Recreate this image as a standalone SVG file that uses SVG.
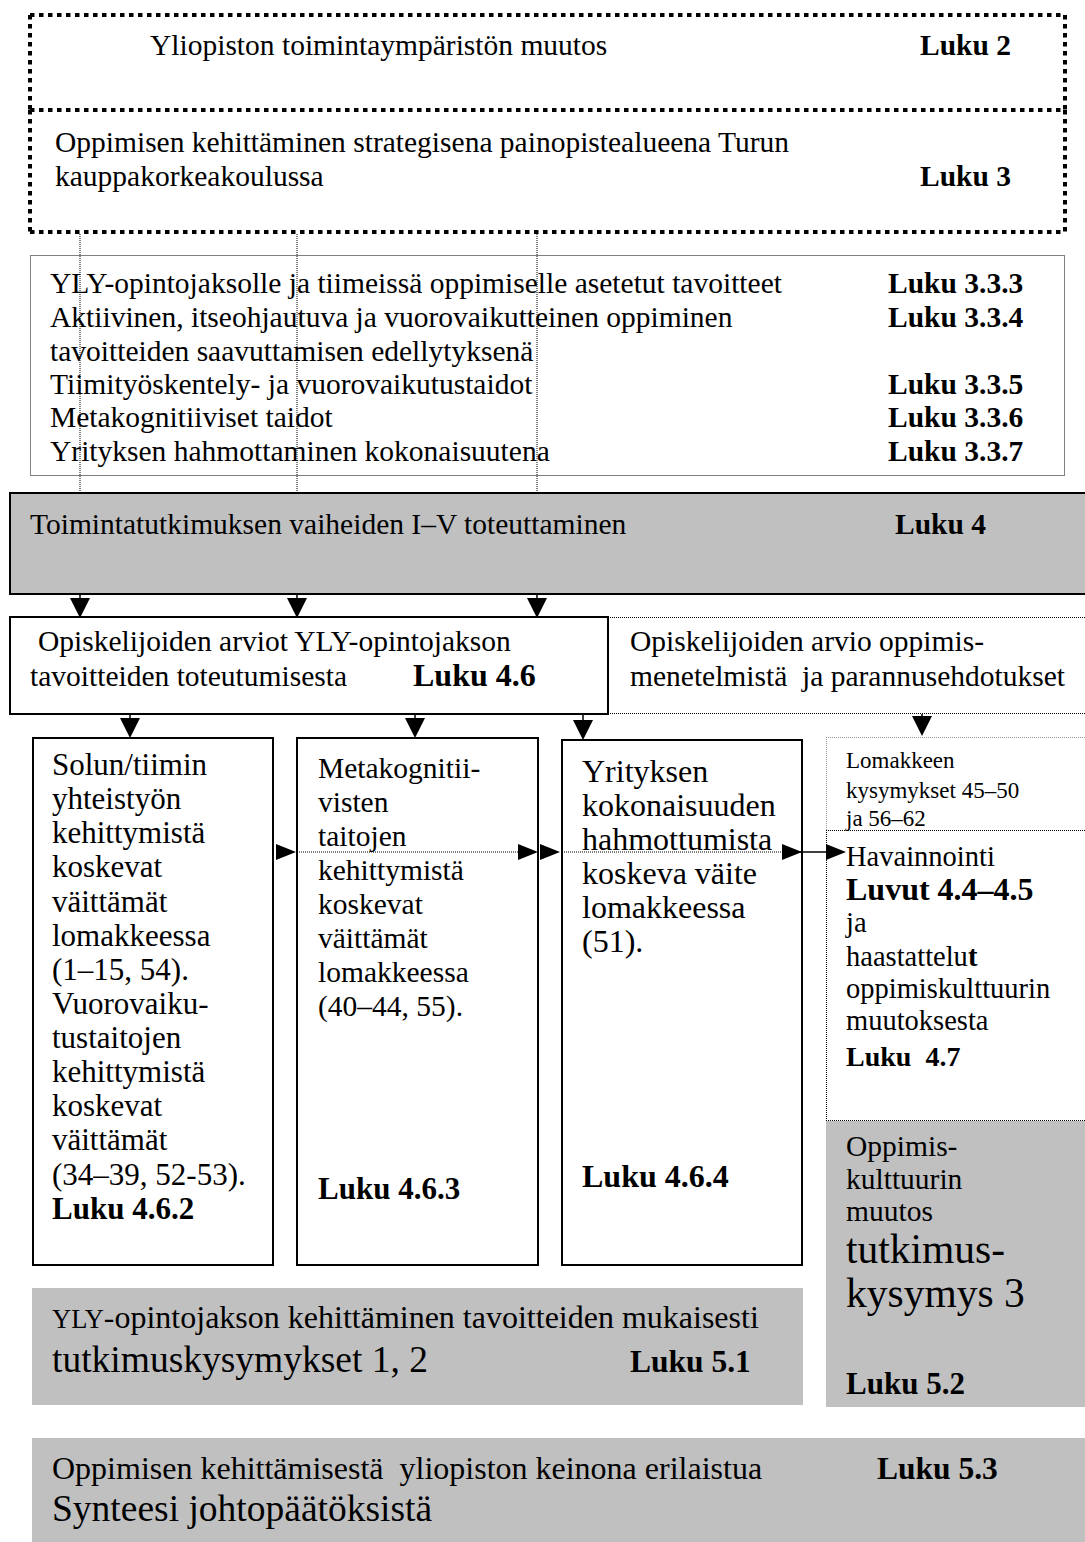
<svg xmlns="http://www.w3.org/2000/svg" width="1085" height="1542" viewBox="0 0 1085 1542">
<style>
text{font-family:"Liberation Serif","Times New Roman",serif;font-size:29.5px;fill:#000}
.b{font-weight:bold}
.dash{fill:none;stroke:#000;stroke-width:4;stroke-dasharray:4.5 4.5}
.dot{fill:none;stroke:#000;stroke-width:1;stroke-dasharray:1 1}
.dotg{fill:none;stroke:#999;stroke-width:1;stroke-dasharray:1 1}
.grey{fill:#c0c0c0}
.box{fill:#fff;stroke:#000;stroke-width:2}
.ln{stroke:#000;stroke-width:1.5}
.ah{fill:#000}
.ba{font-size:31px}
.bc{font-size:32px}
.rc{font-size:28.5px}
</style>
<defs>
<polygon id="down" points="-10,0 10,0 0,20" class="ah"/>
<polygon id="right" points="0,-8 20,0 0,8" class="ah"/>
</defs>
<rect x="0" y="0" width="1085" height="1542" fill="#fff"/>

<g id="n-muutos">
<line class="dash" x1="30" y1="15" x2="1065" y2="15"/>
<line class="dash" x1="30" y1="15" x2="30" y2="110"/>
<line class="dash" x1="1065" y1="15" x2="1065" y2="110"/>
<text x="150" y="55">Yliopiston toimintaympäristön muutos</text>
<text class="b" x="920" y="55">Luku 2</text>
</g>

<g id="n-strategia">
<line class="dash" x1="30" y1="110" x2="1065" y2="110"/>
<line class="dash" x1="30" y1="110" x2="30" y2="232"/>
<line class="dash" x1="1065" y1="110" x2="1065" y2="232"/>
<line class="dash" x1="30" y1="232" x2="1065" y2="232"/>
<text x="55" y="152">Oppimisen kehittäminen strategisena painopistealueena Turun</text>
<text x="55" y="186">kauppakorkeakoulussa</text>
<text class="b" x="920" y="186">Luku 3</text>
</g>

<g id="n-tavoitteet">
<rect class="dot" x="30.5" y="255.5" width="1034" height="220"/>
<text x="50" y="293">YLY-opintojaksolle ja tiimeissä oppimiselle asetetut tavoitteet</text>
<text class="b" x="888" y="293">Luku 3.3.3</text>
<text x="50" y="327">Aktiivinen, itseohjautuva ja vuorovaikutteinen oppiminen</text>
<text class="b" x="888" y="327">Luku 3.3.4</text>
<text x="50" y="361">tavoitteiden saavuttamisen edellytyksenä</text>
<text x="50" y="394">Tiimityöskentely- ja vuorovaikutustaidot</text>
<text class="b" x="888" y="394">Luku 3.3.5</text>
<text x="50" y="427">Metakognitiiviset taidot</text>
<text class="b" x="888" y="427">Luku 3.3.6</text>
<text x="50" y="461">Yrityksen hahmottaminen kokonaisuutena</text>
<text class="b" x="888" y="461">Luku 3.3.7</text>
</g>

<g id="n-toteutus">
<rect class="grey" x="10" y="493" width="1080" height="101" stroke="#000" stroke-width="2"/>
<text x="30" y="534">Toimintatutkimuksen vaiheiden I–V toteuttaminen</text>
<text class="b" x="895" y="534">Luku 4</text>
</g>

<g id="n-arviot">
<rect class="box" x="10" y="617" width="598" height="97"/>
<text x="38" y="651">Opiskelijoiden arviot YLY-opintojakson</text>
<text x="30" y="686">tavoitteiden toteutumisesta</text>
<text class="b" x="413" y="686" style="font-size:32px">Luku 4.6</text>
</g>

<g id="n-arvio-menetelmat">
<line class="dot" x1="608" y1="617.5" x2="1085" y2="617.5"/>
<line class="dot" x1="608" y1="713.5" x2="1085" y2="713.5"/>
<text x="630" y="651">Opiskelijoiden arvio oppimis-</text>
<text x="630" y="686" xml:space="preserve">menetelmistä  ja parannusehdotukset</text>
</g>

<g id="n-yhteistyo">
<rect class="box" x="33" y="738" width="240" height="527"/>
<text class="ba" x="52" y="775">Solun/tiimin</text>
<text class="ba" x="52" y="809">yhteistyön</text>
<text class="ba" x="52" y="843">kehittymistä</text>
<text class="ba" x="52" y="877">koskevat</text>
<text class="ba" x="52" y="912">väittämät</text>
<text class="ba" x="52" y="946">lomakkeessa</text>
<text class="ba" x="52" y="980">(1–15, 54).</text>
<text class="ba" x="52" y="1014">Vuorovaiku-</text>
<text class="ba" x="52" y="1048">tustaitojen</text>
<text class="ba" x="52" y="1082">kehittymistä</text>
<text class="ba" x="52" y="1116">koskevat</text>
<text class="ba" x="52" y="1150">väittämät</text>
<text class="ba" x="52" y="1185">(34–39, 52-53).</text>
<text class="b" x="52" y="1219" style="font-size:31px">Luku 4.6.2</text>
</g>

<g id="n-metakognitio">
<rect class="box" x="297" y="738" width="241" height="527"/>
<text x="318" y="778">Metakognitii-</text>
<text x="318" y="812">visten</text>
<text x="318" y="846">taitojen</text>
<text x="318" y="880">kehittymistä</text>
<text x="318" y="914">koskevat</text>
<text x="318" y="948">väittämät</text>
<text x="318" y="982">lomakkeessa</text>
<text x="318" y="1016">(40–44, 55).</text>
<text class="b" x="318" y="1199" style="font-size:31px">Luku 4.6.3</text>
</g>

<g id="n-kokonaisuus">
<rect class="box" x="562" y="740" width="240" height="525"/>
<text class="bc" x="582" y="782">Yrityksen</text>
<text class="bc" x="582" y="816">kokonaisuuden</text>
<text class="bc" x="582" y="850">hahmottumista</text>
<text class="bc" x="582" y="884">koskeva väite</text>
<text class="bc" x="582" y="918">lomakkeessa</text>
<text class="bc" x="582" y="952">(51).</text>
<text class="b" x="582" y="1187" style="font-size:32px">Luku 4.6.4</text>
</g>

<g id="n-lomake">
<line class="dotg" x1="826" y1="737.5" x2="1085" y2="737.5"/>
<line class="dotg" x1="826.5" y1="737" x2="826.5" y2="830"/>
<text x="846" y="768" style="font-size:23px">Lomakkeen</text>
<text x="846" y="798" style="font-size:23px">kysymykset 45–50</text>
<text x="846" y="826" style="font-size:23px">ja 56–62</text>
</g>

<g id="n-havainnointi">
<line class="dot" x1="826" y1="830.5" x2="1085" y2="830.5"/>
<line class="dot" x1="826.5" y1="830" x2="826.5" y2="1120"/>
<line class="dot" x1="826" y1="1120.5" x2="1085" y2="1120.5"/>
<text class="rc" x="846" y="866">Havainnointi</text>
<text class="b" x="846" y="900" style="font-size:32px">Luvut 4.4–4.5</text>
<text class="rc" x="846" y="932">ja</text>
<text class="rc" x="846" y="966">haastattelu<tspan class="b">t</tspan></text>
<text class="rc" x="846" y="998">oppimiskulttuurin</text>
<text class="rc" x="846" y="1030">muutoksesta</text>
<text class="b" x="846" y="1066" style="font-size:28px" xml:space="preserve">Luku  4.7</text>
</g>

<g id="n-oppimiskulttuuri">
<rect class="grey" x="826" y="1121" width="259" height="286"/>
<text x="846" y="1156" style="font-size:29.5px">Oppimis-</text>
<text x="846" y="1189" style="font-size:29.5px">kulttuurin</text>
<text x="846" y="1221" style="font-size:29.5px">muutos</text>
<text x="846" y="1263" style="font-size:41.5px">tutkimus-</text>
<text x="846" y="1307" style="font-size:41.5px">kysymys 3</text>
<text class="b" x="846" y="1394" style="font-size:31px">Luku 5.2</text>
</g>

<g id="n-kehittaminen">
<rect class="grey" x="32" y="1288" width="771" height="117"/>
<text x="52" y="1328" style="font-size:32px"><tspan style="font-size:26.5px">YLY</tspan>-opintojakson kehittäminen tavoitteiden mukaisesti</text>
<text x="52" y="1372" style="font-size:37.5px">tutkimuskysymykset 1, 2</text>
<text class="b" x="630" y="1372" style="font-size:31.5px">Luku 5.1</text>
</g>

<g id="n-synteesi">
<rect class="grey" x="32" y="1438" width="1053" height="104"/>
<text x="52" y="1479" style="font-size:32px" xml:space="preserve">Oppimisen kehittämisestä  yliopiston keinona erilaistua</text>
<text class="b" x="877" y="1479" style="font-size:31.5px">Luku 5.3</text>
<text x="52" y="1521" style="font-size:37.5px">Synteesi johtopäätöksistä</text>
</g>

<g id="connectors">
<line class="dot" x1="80" y1="234" x2="80" y2="493"/>
<line class="dot" x1="297" y1="234" x2="297" y2="493"/>
<line class="dot" x1="537" y1="234" x2="537" y2="493"/>
<line class="ln" x1="80" y1="594" x2="80" y2="600"/>
<line class="ln" x1="297" y1="594" x2="297" y2="600"/>
<line class="ln" x1="537" y1="594" x2="537" y2="600"/>
<use href="#down" x="80" y="598"/>
<use href="#down" x="297" y="598"/>
<use href="#down" x="537" y="598"/>
<line class="ln" x1="130" y1="714" x2="130" y2="720"/>
<line class="ln" x1="415" y1="714" x2="415" y2="720"/>
<line class="ln" x1="583" y1="714" x2="583" y2="722"/>
<use href="#down" x="130" y="718"/>
<use href="#down" x="415" y="718"/>
<use href="#down" x="583" y="720"/>
<line class="ln" x1="922" y1="714" x2="922" y2="718"/>
<use href="#down" x="922" y="716"/>
<use href="#right" x="276" y="852"/>
<line class="dot" x1="297" y1="852" x2="518" y2="852"/>
<use href="#right" x="518" y="852"/>
<use href="#right" x="540" y="852"/>
<line class="dot" x1="562" y1="852" x2="782" y2="852"/>
<use href="#right" x="782" y="852"/>
<line class="ln" x1="800" y1="852" x2="828" y2="852"/>
<use href="#right" x="826" y="852"/>
</g>
</svg>
